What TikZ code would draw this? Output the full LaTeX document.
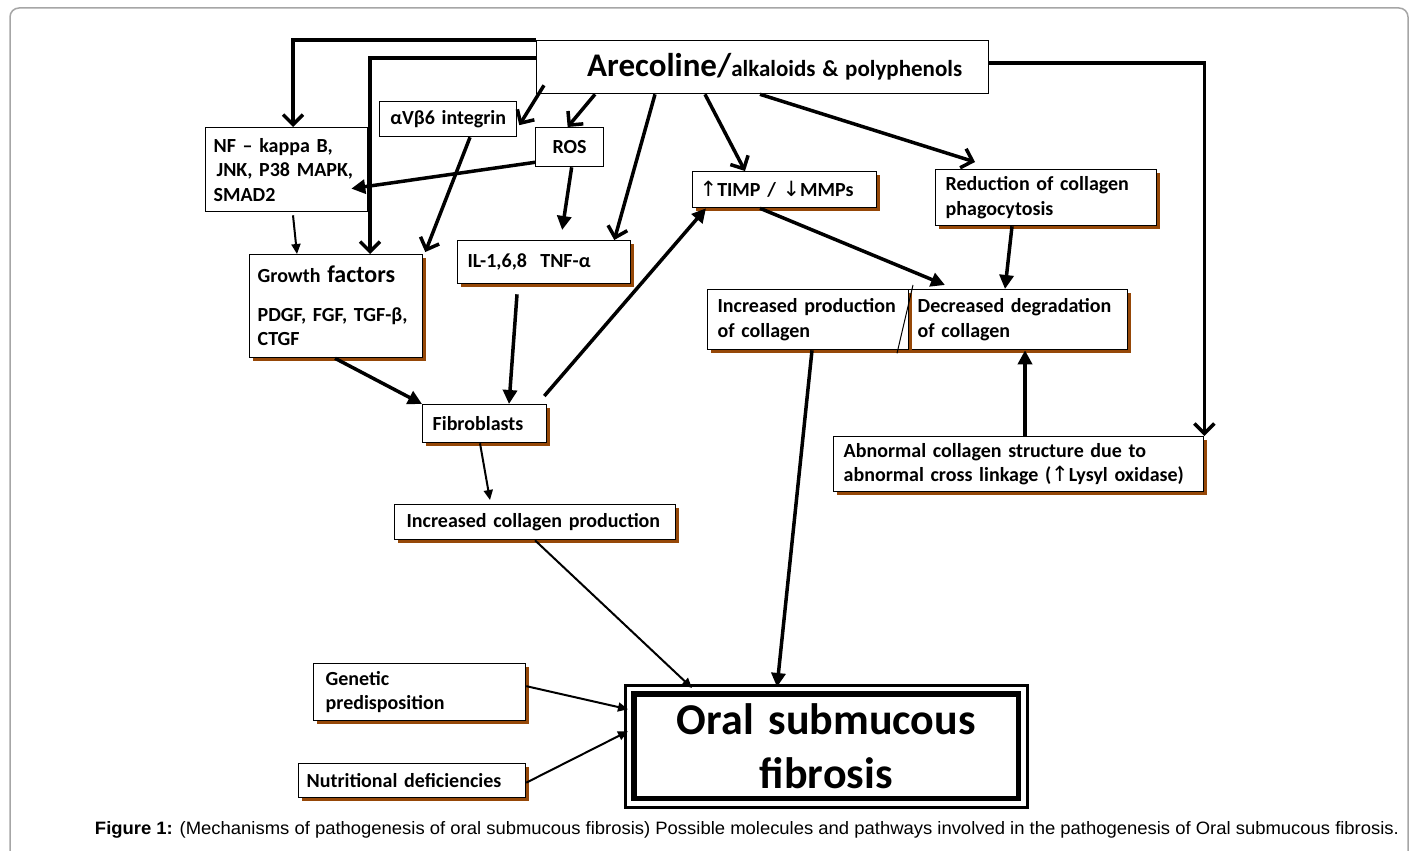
\documentclass[tikz,border=0pt]{standalone}
\usepackage{fontspec}
\usepackage{graphicx}
\setmainfont{Carlito}
\newfontfamily\capfont{Liberation Sans}
\newfontfamily\symfont{DejaVu Sans}
\usetikzlibrary{arrows.meta,shadows,calc}
\definecolor{brn}{RGB}{150,72,8}
\newcommand\upar{{\symfont\mdseries\fontsize{21}{21}\selectfont ↑}}
\newcommand\dnar{{\symfont\mdseries\fontsize{21}{21}\selectfont ↓}}
\begin{document}
\begin{tikzpicture}[x=1pt,y=-1pt,
  box/.style={draw, line width=1.3pt, fill=white, anchor=north west, inner ysep=0pt,
    font=\bfseries\fontsize{20}{24.5}\selectfont, align=left},
  shbox/.style={box, drop shadow={shadow xshift=3.5pt, shadow yshift=-3.5pt, fill=brn, opacity=1}},
  thk/.style={line width=3.5pt},
  thn/.style={line width=2pt},
  vtip/.style={-{Straight Barb[length=10pt,width=20pt]}},
  ftip/.style={-{Triangle[length=14pt,width=14pt]}},
  stip/.style={-{Triangle[length=10pt,width=9pt]}},
  line join=miter]
\useasboundingbox (0,0) rectangle (1416,851);
\fill[white] (0,0) rectangle (1416,851);
\draw[gray!70, line width=1.5pt, rounded corners=9pt] (10,8) rectangle (1408,900);

% nodes
\node[box, minimum width=452pt, minimum height=53pt, text width=452pt, inner xsep=0pt, align=center] (are) at (536,40)
  {\hspace*{24pt}{\fontsize{33}{36}\selectfont Arecoline/}{\fontsize{23}{26}\selectfont alkaloids \& polyphenols}};
\node[box, minimum width=137pt, minimum height=35pt, text width=137pt, inner xsep=0pt, align=center] (integ) at (379,101) {αVβ6 integrin};
\node[box, minimum width=68pt, minimum height=39pt, text width=68pt, inner xsep=0pt, align=center] (ros) at (535,127) {ROS};
\node[box, minimum width=162pt, minimum height=84pt, text width=146pt, inner xsep=8pt] (nf) at (205,127)
  {NF – kappa B,\\\hspace*{3pt}JNK, P38 MAPK,\\SMAD2};
\node[shbox, minimum width=173pt, minimum height=103pt, text width=157pt, inner xsep=8pt] (gf) at (249,254)
  {Growth {\fontsize{24}{28}\selectfont factors}\\[14pt]PDGF, FGF, TGF-β,\\CTGF};
\node[shbox, minimum width=173pt, minimum height=43pt, text width=153pt, inner xsep=10pt] (il) at (457,240) {IL-1,6,8~~TNF-α};
\node[shbox, minimum width=124pt, minimum height=38pt, text width=104pt, inner xsep=10pt] (fib) at (422,404) {Fibroblasts};
\node[shbox, minimum width=281pt, minimum height=35pt, text width=257pt, inner xsep=12pt] (icp) at (394,504) {Increased collagen production};
\node[shbox, minimum width=184pt, minimum height=36pt, text width=170pt, inner xsep=7pt] (timp) at (692,171) {\upar TIMP / \dnar MMPs};
\node[shbox, minimum width=221pt, minimum height=56pt, text width=201pt, inner xsep=10pt] (red) at (935,169) {Reduction of collagen\\phagocytosis};
\node[shbox, minimum width=219pt, minimum height=60pt, text width=201pt, inner xsep=9pt] (dec) at (908,289) {Decreased degradation\\of collagen};
\node[shbox, minimum width=201pt, minimum height=60pt, text width=189pt, inner xsep=6pt] (inc) at (707,289) {\hspace*{4pt}Increased production\\\hspace*{4pt}of collagen};
\node[shbox, minimum width=370pt, minimum height=55pt, text width=350pt, inner xsep=10pt] (abn) at (833,436)
  {Abnormal collagen structure due to\\abnormal cross linkage (\upar Lysyl oxidase)};
\node[shbox, minimum width=212pt, minimum height=57pt, text width=188pt, inner xsep=12pt] (gen) at (313,663) {Genetic\\predisposition};
\node[shbox, minimum width=227pt, minimum height=34pt, text width=211pt, inner xsep=8pt] (nut) at (298,763) {Nutritional deficiencies};
\node[box, line width=2.5pt, minimum width=402pt, minimum height=122pt, text width=402pt, inner xsep=0pt, align=center,
  font=\bfseries\fontsize{44}{54}\selectfont] (oral) at (624,684) {Oral submucous\\fibrosis};
\draw[line width=5.5pt] ([xshift=10pt,yshift=-10pt]oral.north west) rectangle ([xshift=-10pt,yshift=10pt]oral.south east);

% slash across the divider
\draw[line width=1pt] ([xshift=5pt,yshift=4pt]dec.north west) -- ([xshift=-11pt,yshift=-3pt]dec.south west);

% connectors from Arecoline
\draw[thk,vtip] (are.north west) -| ([xshift=88pt]nf.north west);
\draw[thk,vtip] ([yshift=-18pt]are.north west) -| ([xshift=121pt]gf.north west);
\draw[thk,vtip] ([xshift=8pt,yshift=9pt]are.south west) -- ([xshift=2pt,yshift=-6pt]integ.east);
\draw[thk,vtip] ([xshift=59pt]are.south west) -- ([xshift=-2pt]ros.north);
\draw[thk,vtip] ([xshift=119pt]are.south west) -- ([xshift=-17pt]il.north east);
\draw[thk,vtip] ([xshift=169pt]are.south west) -- ([xshift=53pt]timp.north west);
\draw[thk,vtip] ([xshift=224pt]are.south west) -- ([xshift=40pt,yshift=7pt]red.north west);
\draw[thk,vtip] ([yshift=-23pt]are.north east) -| (abn.north east);

% other connectors
\draw[thk,vtip] ([xshift=91pt]integ.south west) -- ([xshift=2pt,yshift=2pt]gf.north east);
\draw[thk,ftip] ([yshift=5pt]ros.south west) -- ([xshift=-17pt,yshift=-19pt]nf.east);
\draw[thk,ftip] ([xshift=2pt]ros.south) -- ([xshift=18pt,yshift=10pt]il.north);
\draw[thn,stip] ([xshift=88pt,yshift=-3pt]nf.south west) -- ([xshift=48pt]gf.north west);
\draw[thk,ftip] ([xshift=86pt]gf.south west) -- (fib.north west);
\draw[thk,ftip] ([xshift=60pt,yshift=-10pt]il.south west) -- ([xshift=87pt]fib.north west);
\draw[thk,ftip] ([xshift=-3pt,yshift=8pt]fib.north east) -- ([xshift=14pt]timp.south west);
\draw[thk,ftip] ([xshift=68pt]timp.south west) -- ([xshift=37pt,yshift=4pt]dec.north west);
\draw[thk,ftip] ([xshift=77pt]red.south west) -- ([xshift=97pt]dec.north west);
\draw[thk,ftip] ([xshift=192pt]abn.north west) -- ([xshift=117pt]dec.south west);
\draw[thn,stip] ([xshift=58pt]fib.south west) -- ([xshift=96pt,yshift=4pt]icp.north west);
\draw[thn,stip] ([xshift=141pt]icp.south west) -- ([xshift=68pt,yshift=-4pt]oral.north west);
\draw[thk,ftip] ([xshift=105pt]inc.south west) -- ([xshift=153pt,yshift=-3pt]oral.north west);
\draw[thn,stip] ([yshift=6pt]gen.east) -- ([xshift=4pt,yshift=37pt]oral.west);
\draw[thn,stip] ([yshift=-2pt]nut.east) -- ([xshift=4pt,yshift=15pt]oral.west);

% caption
\node[anchor=base, inner sep=0pt] (cap) at (747,834)
  {\resizebox{1304pt}{13pt}{\capfont\fontsize{16}{19}\selectfont\textbf{Figure 1:} (Mechanisms of pathogenesis of oral submucous fibrosis) Possible molecules and pathways involved in the pathogenesis of Oral submucous fibrosis.}};
\end{tikzpicture}
\end{document}
